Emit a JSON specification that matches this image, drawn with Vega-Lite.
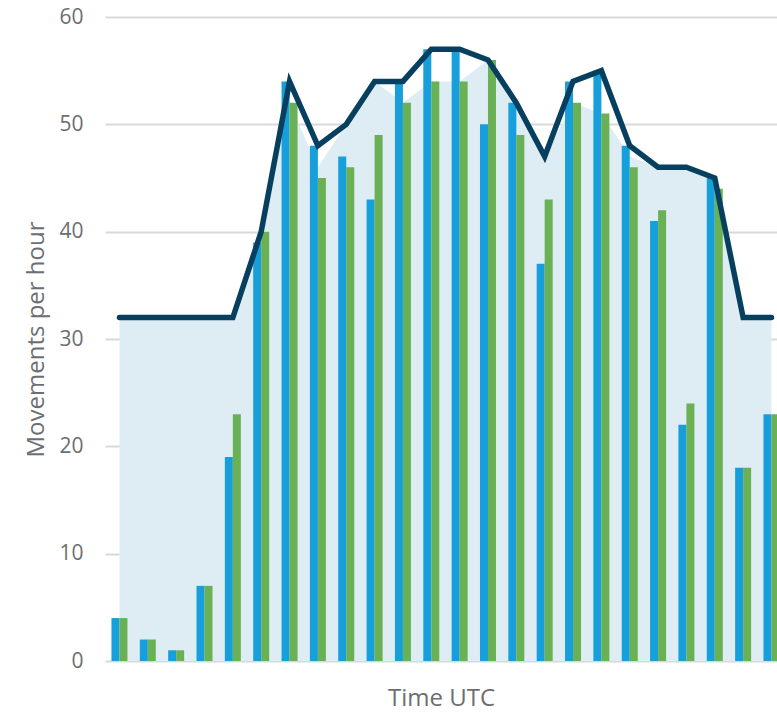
{
  "$schema": "https://vega.github.io/schema/vega-lite/v6.json",
  "autosize": {"type": "none"},
  "padding": {"left": 105, "top": 17, "right": 0, "bottom": 54},
  "width": 672,
  "height": 644,
  "background": "white",
  "config": {
    "view": {"stroke": null},
    "font": "Open Sans",
    "axis": {"labelFont": "Open Sans", "titleFont": "Open Sans"}
  },
  "data": {
    "values": [
      {"hour": 0, "planned": 4, "actual": 4, "capacity": 32, "demand": 32},
      {"hour": 1, "planned": 2, "actual": 2, "capacity": 32, "demand": 32},
      {"hour": 2, "planned": 1, "actual": 1, "capacity": 32, "demand": 32},
      {"hour": 3, "planned": 7, "actual": 7, "capacity": 32, "demand": 32},
      {"hour": 4, "planned": 19, "actual": 23, "capacity": 32, "demand": 32},
      {"hour": 5, "planned": 39, "actual": 40, "capacity": 40, "demand": 40},
      {"hour": 6, "planned": 54, "actual": 52, "capacity": 54, "demand": 52},
      {"hour": 7, "planned": 48, "actual": 45, "capacity": 48, "demand": 46},
      {"hour": 8, "planned": 47, "actual": 46, "capacity": 50, "demand": 50},
      {"hour": 9, "planned": 43, "actual": 49, "capacity": 54, "demand": 54},
      {"hour": 10, "planned": 54, "actual": 52, "capacity": 54, "demand": 52},
      {"hour": 11, "planned": 57, "actual": 54, "capacity": 57, "demand": 54},
      {"hour": 12, "planned": 57, "actual": 54, "capacity": 57, "demand": 54},
      {"hour": 13, "planned": 50, "actual": 56, "capacity": 56, "demand": 56},
      {"hour": 14, "planned": 52, "actual": 49, "capacity": 52, "demand": 52},
      {"hour": 15, "planned": 37, "actual": 43, "capacity": 47, "demand": 47},
      {"hour": 16, "planned": 54, "actual": 52, "capacity": 54, "demand": 52},
      {"hour": 17, "planned": 55, "actual": 51, "capacity": 55, "demand": 51},
      {"hour": 18, "planned": 48, "actual": 46, "capacity": 48, "demand": 47},
      {"hour": 19, "planned": 41, "actual": 42, "capacity": 46, "demand": 46},
      {"hour": 20, "planned": 22, "actual": 24, "capacity": 46, "demand": 46},
      {"hour": 21, "planned": 45, "actual": 44, "capacity": 45, "demand": 45},
      {"hour": 22, "planned": 18, "actual": 18, "capacity": 32, "demand": 32},
      {"hour": 23, "planned": 23, "actual": 23, "capacity": 32, "demand": 32}
    ]
  },
  "encoding": {
    "x": {
      "field": "hour",
      "type": "quantitative",
      "scale": {"domain": [-0.51, 23.195], "nice": false, "zero": false, "padding": 0},
      "axis": {
        "title": "Time UTC",
        "labels": false,
        "ticks": false,
        "domain": false,
        "grid": false,
        "titleFontSize": 24,
        "titleFontWeight": "normal",
        "titleColor": "#6d6e71",
        "titlePadding": 25
      }
    }
  },
  "layer": [
    {
      "mark": {"type": "area", "color": "#deecf4", "opacity": 1},
      "encoding": {
        "y": {
          "field": "demand",
          "type": "quantitative",
          "scale": {"domain": [0, 60], "nice": false},
          "axis": {
            "title": "Movements per hour",
            "values": [0, 10, 20, 30, 40, 50, 60],
            "domain": false,
            "ticks": false,
            "tickSize": 0,
            "labelPadding": 22,
            "labelFontSize": 21,
            "labelColor": "#6d6e71",
            "titleFontSize": 24,
            "titleFontWeight": "normal",
            "titleColor": "#6d6e71",
            "titlePadding": 10,
            "gridColor": "#d9d9d9",
            "gridWidth": 2
          }
        }
      }
    },
    {
      "mark": {"type": "bar", "color": "#169fdb", "width": 8, "xOffset": -4, "clip": true},
      "encoding": {"y": {"field": "planned", "type": "quantitative"}}
    },
    {
      "mark": {"type": "bar", "color": "#6ab155", "width": 8, "xOffset": 4, "clip": true},
      "encoding": {"y": {"field": "actual", "type": "quantitative"}}
    },
    {
      "mark": {"type": "line", "color": "#073f5e", "strokeWidth": 5.5, "strokeCap": "round", "strokeJoin": "miter"},
      "encoding": {"y": {"field": "capacity", "type": "quantitative"}}
    }
  ]
}
